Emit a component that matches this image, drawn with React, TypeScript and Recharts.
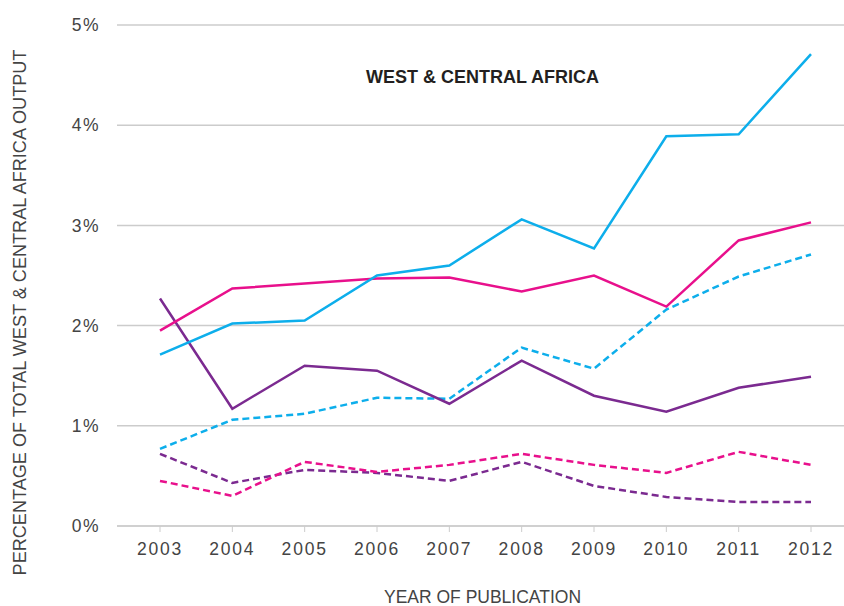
import React from 'react';
import { LineChart, Line, XAxis, YAxis, CartesianGrid, Customized } from 'recharts';

const years = ['2003', '2004', '2005', '2006', '2007', '2008', '2009', '2010', '2011', '2012'];
const cyanSolid = [1.71, 2.02, 2.05, 2.5, 2.6, 3.06, 2.77, 3.89, 3.91, 4.71];
const magentaSolid = [1.95, 2.37, 2.42, 2.47, 2.48, 2.34, 2.5, 2.19, 2.85, 3.03];
const purpleSolid = [2.27, 1.17, 1.6, 1.55, 1.22, 1.65, 1.3, 1.14, 1.38, 1.49];
const cyanDashed = [0.77, 1.06, 1.12, 1.28, 1.27, 1.78, 1.57, 2.16, 2.49, 2.71];
const magentaDashed = [0.45, 0.3, 0.64, 0.54, 0.61, 0.72, 0.61, 0.53, 0.74, 0.61];
const purpleDashed = [0.72, 0.43, 0.56, 0.53, 0.45, 0.64, 0.4, 0.29, 0.24, 0.24];
const yTicks = [0, 1, 2, 3, 4, 5];

const data = years.map((y, i) => ({
  year: y,
  cs: cyanSolid[i],
  ms: magentaSolid[i],
  ps: purpleSolid[i],
  cd: cyanDashed[i],
  md: magentaDashed[i],
  pd: purpleDashed[i],
}));

const CYAN = '#0DAEEB';
const MAGENTA = '#E8108C';
const PURPLE = '#7B2A90';
const FONT = '"Liberation Sans", Arial, sans-serif';
const TXT = '#444444';

const Title = (props: any) => {
  const off = props.offset || { left: 117, top: 25, width: 727 };
  return (
    <text
      x={off.left + off.width / 2 + 2}
      y={off.top + 58}
      textAnchor="middle"
      fontFamily={FONT}
      fontWeight="bold"
      fontSize={18}
      fill="#231F20"
    >
      WEST &amp; CENTRAL AFRICA
    </text>
  );
};

const YLabel = (props: any) => {
  const vb = props.viewBox;
  const cx = vb.x + 20;
  const cy = vb.y + vb.height / 2 + 37;
  return (
    <text
      x={cx}
      y={cy}
      transform={`rotate(-90, ${cx}, ${cy})`}
      textAnchor="middle"
      dominantBaseline="central"
      fontFamily={FONT}
      fontSize={18.1}
      fill={TXT}
    >
      PERCENTAGE OF TOTAL WEST &amp; CENTRAL AFRICA OUTPUT
    </text>
  );
};

const XLabel = (props: any) => {
  const vb = props.viewBox;
  return (
    <text
      x={vb.x + vb.width / 2 + 2}
      y={vb.y + 77}
      textAnchor="middle"
      fontFamily={FONT}
      fontSize={17.5}
      fill={TXT}
    >
      YEAR OF PUBLICATION
    </text>
  );
};

export default function App() {
  return (
    <div style={{ position: 'absolute', left: 0, top: 0, width: 844, height: 606, background: '#fff' }}>
      <LineChart
        width={844}
        height={606}
        data={data}
        margin={{ top: 25, right: 0, bottom: 0, left: 0 }}
      >
        <CartesianGrid vertical={false} stroke="#CCCCCC" strokeWidth={1.5} />
        <XAxis
          dataKey="year"
          height={80}
          padding={{ left: 43, right: 33 }}
          axisLine={{ stroke: '#CCCCCC', strokeWidth: 1.5 }}
          tickLine={{ stroke: '#CCCCCC', strokeWidth: 1 }}
          tickSize={6}
          tickMargin={11}
          tick={{ fontFamily: FONT, fontSize: 17.5, fill: TXT, letterSpacing: 1.8 }}
          interval={0}
          label={<XLabel />}
        />
        <YAxis
          domain={[0, 5]}
          ticks={yTicks}
          width={117}
          axisLine={false}
          tickLine={false}
          tickSize={0}
          tickMargin={17}
          tickFormatter={(v: number) => `${v}%`}
          tick={{ fontFamily: FONT, fontSize: 17.5, fill: TXT, letterSpacing: 1.5 }}
          label={<YLabel />}
        />
        <Line dataKey="pd" stroke={PURPLE} strokeWidth={2.5} strokeDasharray="7 4" dot={false} isAnimationActive={false} />
        <Line dataKey="md" stroke={MAGENTA} strokeWidth={2.5} strokeDasharray="7 4" dot={false} isAnimationActive={false} />
        <Line dataKey="cd" stroke={CYAN} strokeWidth={2.5} strokeDasharray="7 4" dot={false} isAnimationActive={false} />
        <Line dataKey="ps" stroke={PURPLE} strokeWidth={2.5} dot={false} isAnimationActive={false} />
        <Line dataKey="ms" stroke={MAGENTA} strokeWidth={2.5} dot={false} isAnimationActive={false} />
        <Line dataKey="cs" stroke={CYAN} strokeWidth={2.5} dot={false} isAnimationActive={false} />
        <Customized component={Title} />
      </LineChart>
    </div>
  );
}
